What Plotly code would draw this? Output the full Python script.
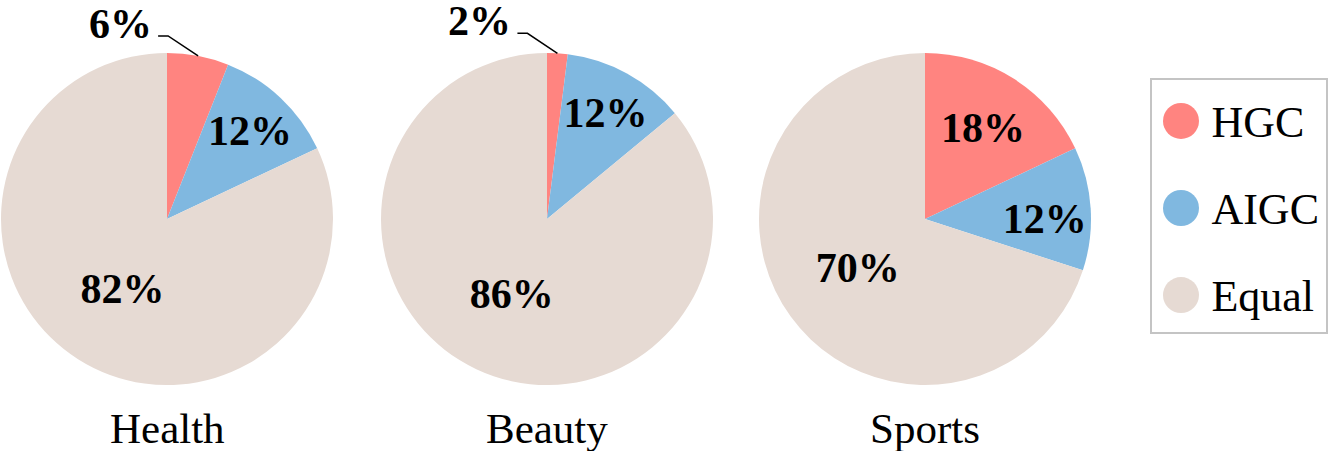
import math
import plotly.graph_objects as go

# data
groups = ["Health", "Beauty", "Sports"]
series = ["HGC", "AIGC", "Equal"]
health = [6, 12, 82]
beauty = [2, 12, 86]
sports = [18, 12, 70]
colors = ["#FF8480", "#80B8E0", "#E6DAD3"]

W, H = 1328, 451
FONT = "Liberation Serif"

# pie placement in pixels (center x, center y, radius)
pie_cx = [167, 547, 925]
pie_cy = 219
pie_r = 166


def px_x(v):
    return v / W


def px_y(v):
    return 1 - v / H


fig = go.Figure()
all_values = [health, beauty, sports]

for i, (name, vals) in enumerate(zip(groups, all_values)):
    total = sum(vals)
    # small slices get an outside label with a leader line instead
    texts = ["" if v / total < 0.08 else f"{round(100 * v / total)}%" for v in vals]
    fig.add_trace(go.Pie(
        labels=series,
        values=vals,
        text=texts,
        textinfo="text",
        textposition="inside",
        insidetextorientation="horizontal",
        textfont=dict(family=FONT, size=42, color="black", weight="bold"),
        marker=dict(colors=colors, line=dict(width=0)),
        sort=False,
        direction="clockwise",
        rotation=0,
        showlegend=False,
        hoverinfo="label+percent",
        domain=dict(
            x=[px_x(pie_cx[i] - pie_r), px_x(pie_cx[i] + pie_r)],
            y=[px_y(pie_cy + pie_r), px_y(pie_cy - pie_r)],
        ),
    ))

    # group name under each pie
    fig.add_annotation(
        x=px_x(pie_cx[i]), y=px_y(428), xref="paper", yref="paper",
        text=name, showarrow=False, xanchor="center", yanchor="middle",
        font=dict(family=FONT, size=43, color="black"),
    )

    # outside labels for the small slices
    start = 0
    for v in vals:
        frac = v / total
        if frac < 0.08:
            mid = (start + frac / 2) * 2 * math.pi
            ex = pie_cx[i] + pie_r * math.sin(mid)
            ey = pie_cy - pie_r * math.cos(mid)
            kx, ky = ex - 30, ey - 20
            fig.add_shape(
                type="path", xref="paper", yref="paper",
                path=(f"M {px_x(ex)},{px_y(ey)} L {px_x(kx)},{px_y(ky)} "
                      f"L {px_x(kx - 10)},{px_y(ky)}"),
                line=dict(color="black", width=1.5),
            )
            fig.add_annotation(
                x=px_x(kx - 14), y=px_y(ky - 12), xref="paper", yref="paper",
                text=f"{round(100 * frac)}%", showarrow=False,
                xanchor="right", yanchor="middle",
                font=dict(family=FONT, size=42, color="black", weight="bold"),
            )
        start += frac

# legend drawn as a scatter with big round markers, names beside them
legend_y = [2, 1, 0]
fig.add_trace(go.Scatter(
    x=[0, 0, 0], y=legend_y,
    mode="markers",
    marker=dict(size=36, color=colors, line=dict(width=0)),
    showlegend=False,
    hoverinfo="skip",
    cliponaxis=False,
))
fig.add_trace(go.Scatter(
    x=[0.21, 0.21, 0.21], y=[v - 0.06 for v in legend_y],
    mode="text",
    text=series,
    textposition="middle right",
    textfont=dict(family=FONT, size=44, color="black"),
    showlegend=False,
    hoverinfo="skip",
    cliponaxis=False,
))

fig.update_xaxes(
    domain=[1152 / W, 1326 / W], range=[-0.2, 1],
    showgrid=False, zeroline=False, showticklabels=False,
    showline=True, mirror=True, linecolor="#C4C4C4", linewidth=2,
    fixedrange=True,
)
fig.update_yaxes(
    domain=[px_y(332), px_y(80)], range=[-0.425, 2.471],
    showgrid=False, zeroline=False, showticklabels=False,
    showline=True, mirror=True, linecolor="#C4C4C4", linewidth=2,
    fixedrange=True,
)

fig.update_layout(
    width=W, height=H,
    margin=dict(l=0, r=0, t=0, b=0),
    paper_bgcolor="white",
    plot_bgcolor="white",
    uniformtext=dict(minsize=42, mode="show"),
    font=dict(family=FONT, color="black"),
)

fig.write_html(
    "out.html",
    config={"displayModeBar": False},
    post_script="document.body.style.margin='0';",
)
